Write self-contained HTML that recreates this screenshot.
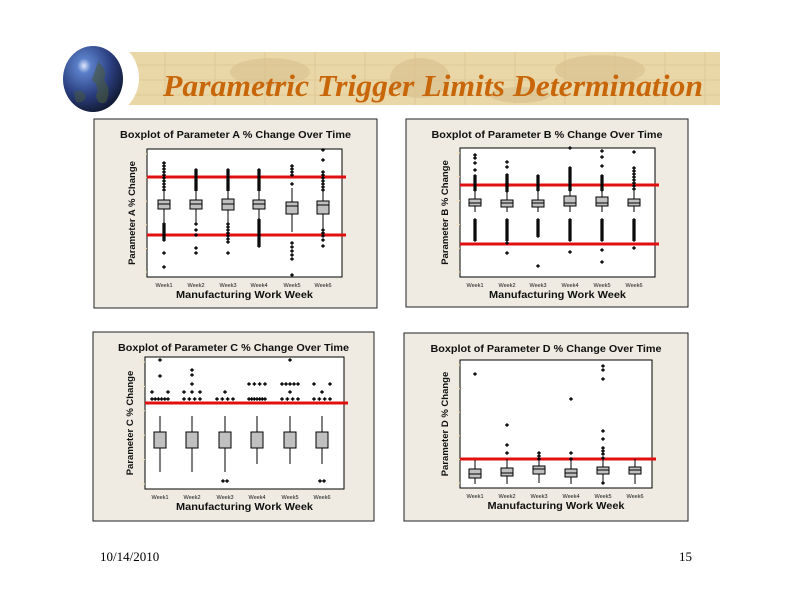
<!DOCTYPE html>
<html><head><meta charset="utf-8"><style>
html,body{margin:0;padding:0;background:#fff;}
svg{display:block;}
</style></head><body>
<svg id="s" width="792" height="612" viewBox="0 0 792 612" xmlns="http://www.w3.org/2000/svg">
<defs>
<radialGradient id="g" cx="0.35" cy="0.3" r="0.75">
<stop offset="0" stop-color="#dfe8ff"/><stop offset="0.15" stop-color="#5a7fc8"/><stop offset="0.6" stop-color="#2b3f80"/><stop offset="1" stop-color="#101830"/>
</radialGradient>
</defs>
<rect x="120" y="52" width="600" height="53" fill="#ead7a8"/>
<g fill="#dcc593" opacity="0.8">
<ellipse cx="270" cy="72" rx="40" ry="14"/><ellipse cx="420" cy="78" rx="30" ry="20"/><ellipse cx="600" cy="70" rx="45" ry="15"/><ellipse cx="520" cy="95" rx="30" ry="8"/>
</g>
<g stroke="#dcc48e" stroke-width="1" opacity="0.8">
<line x1="120" y1="65" x2="720" y2="65"/><line x1="120" y1="80" x2="720" y2="80"/><line x1="120" y1="95" x2="720" y2="95"/>
<line x1="165" y1="52" x2="165" y2="105"/><line x1="215" y1="52" x2="215" y2="105"/><line x1="265" y1="52" x2="265" y2="105"/><line x1="315" y1="52" x2="315" y2="105"/><line x1="365" y1="52" x2="365" y2="105"/><line x1="415" y1="52" x2="415" y2="105"/><line x1="465" y1="52" x2="465" y2="105"/><line x1="515" y1="52" x2="515" y2="105"/><line x1="565" y1="52" x2="565" y2="105"/><line x1="615" y1="52" x2="615" y2="105"/><line x1="665" y1="52" x2="665" y2="105"/><line x1="705" y1="52" x2="705" y2="105"/>
</g>
<ellipse cx="103" cy="78" rx="36" ry="38" fill="#fff"/>
<ellipse cx="93" cy="79" rx="30" ry="33" fill="url(#g)"/>
<path d="M98 62 q10 8 6 18 q8 10 2 22 q-8 4 -10 -6 q4 -10 -4 -16z" fill="#4a5a3a" opacity="0.6"/>
<path d="M74 92 q8 -4 12 4 q-2 8 -10 6z" fill="#4a5a3a" opacity="0.5"/>
<text x="163" y="96" font-family="Liberation Serif, serif" font-style="italic" font-weight="bold" font-size="31" fill="#c8660a" textLength="540" lengthAdjust="spacingAndGlyphs">Parametric Trigger Limits Determination</text>
<g id="panels"></g>
<text x="100" y="561" font-family="Liberation Serif, serif" font-size="13" fill="#000">10/14/2010</text>
<text x="679" y="561" font-family="Liberation Serif, serif" font-size="13" fill="#000">15</text>
</svg>
<script>
var NS="http://www.w3.org/2000/svg",G=document.getElementById("panels");
function el(t,a,txt){var e=document.createElementNS(NS,t);for(var k in a)e.setAttribute(k,a[k]);if(txt)e.textContent=txt;G.appendChild(e);return e;}
function rng(a,b,s){var r=[];for(var v=a;v<=b;v+=s)r.push(v);return r;}
function panel(P){
 el("rect",{x:P.px,y:P.py,width:P.pw,height:P.ph,fill:"#efebe2",stroke:"#222","stroke-width":1});
 el("text",{x:P.px+P.pw/2,y:P.py+19,"text-anchor":"middle","font-family":"Liberation Sans, sans-serif","font-weight":"bold","font-size":"10",fill:"#111",textLength:"231",lengthAdjust:"spacingAndGlyphs"},P.title);
 el("rect",{x:P.x,y:P.y,width:P.w,height:P.h,fill:"#fff",stroke:"#000","stroke-width":1});
 for(var i=0;i<6;i++){var ty=P.y+5+i*(P.h-10)/5;el("line",{x1:P.x-4,y1:ty,x2:P.x,y2:ty,stroke:"#f3e3c0","stroke-width":1});}
 P.reds.forEach(function(r){el("line",{x1:P.x,y1:r,x2:P.x+P.w+4,y2:r,stroke:"#e01010","stroke-width":3});});
 P.b.forEach(function(b,i){var cx=P.xs[i];
  el("line",{x1:cx,y1:b[3],x2:cx,y2:b[4],stroke:"#000","stroke-width":1});
  el("rect",{x:cx-6,y:b[0],width:12,height:b[1]-b[0],fill:"#c0c0c0",stroke:"#000","stroke-width":1});
  if(b[2])el("line",{x1:cx-6,y1:b[2],x2:cx+6,y2:b[2],stroke:"#000","stroke-width":1});
  (b[5]||[]).forEach(function(o){var ox=cx+(typeof o==="object"?o[1]:0),oy=typeof o==="object"?o[0]:o;
   el("path",{d:"M"+(ox-1.8)+" "+oy+"h3.6M"+ox+" "+(oy-1.8)+"v3.6",stroke:"#000","stroke-width":1.4});});
  el("text",{x:cx,y:P.y+P.h+10,"text-anchor":"middle","font-family":"Liberation Sans, sans-serif","font-size":"5.5",fill:"#111"},"Week"+(i+1));
 });
 el("text",{x:P.x+P.w/2,y:P.y+P.h+21,"text-anchor":"middle","font-family":"Liberation Sans, sans-serif","font-weight":"bold","font-size":"10",fill:"#111",textLength:"137",lengthAdjust:"spacingAndGlyphs"},"Manufacturing Work Week");
 var lx=P.x-12,ly=P.y+P.h/2;
 el("text",{x:lx,y:ly,"text-anchor":"middle","font-family":"Liberation Sans, sans-serif","font-weight":"bold","font-size":"9.5",fill:"#111",transform:"rotate(-90 "+lx+" "+ly+")"},P.yl);
}
var dA=rng(170,191,2),dB=rng(220,240,2);
panel({px:94,py:119,pw:283,ph:189,x:147,y:149,w:195,h:128,title:"Boxplot of Parameter A % Change Over Time",yl:"Parameter A % Change",
 reds:[177,235],xs:[164,196,228,259,292,323],
 b:[[200,209,204,192,223,rng(163,191,3).concat(rng(224,241,2),[253,267])],
    [200,209,204,192,223,dA.concat([224,230,235,248,253])],
    [199,210,204,192,223,dA.concat(rng(224,244,3),[253])],
    [200,209,204,192,223,dA.concat(rng(220,246,2))],
    [202,214,206,188,232,[166,169,172,175,184,243,247,251,255,259,275]],
    [201,214,205,187,232,[150,160].concat(rng(172,190,3),[230,233,236,240,246])]]});
panel({px:406,py:119,pw:282,ph:188,x:460,y:148,w:195,h:129,title:"Boxplot of Parameter B % Change Over Time",yl:"Parameter B % Change",
 reds:[185,244],xs:[475,507,538,570,602,634],
 b:[[199,206,203,190,212,[155,158,163,170].concat(rng(176,191,2),dB)],
    [200,207,203,191,212,[162,167].concat(rng(175,191,2),dB,[243,253])],
    [200,207,203,191,212,rng(176,191,2).concat(rng(220,236,2),[266])],
    [196,206,203,185,212,[148].concat(rng(168,190,2),dB,[252])],
    [197,206,203,186,212,[151,157,166].concat(rng(176,190,2),dB,[250,262])],
    [199,206,203,190,212,[152].concat(rng(168,190,3),dB,[248])]]});
function row(y,n){var r=[];for(var k=0;k<n;k++)r.push([y,-8+k*16/(n-1||1)]);return r;}
panel({px:93,py:332,pw:281,ph:189,x:145,y:357,w:199,h:132,title:"Boxplot of Parameter C % Change Over Time",yl:"Parameter C % Change",
 reds:[403],xs:[160,192,225,257,290,322],
 b:[[432,448,0,416,472,row(399,6).concat(row(392,2),[[376,0],[360,0]])],
    [432,448,0,416,472,row(399,4).concat(row(392,3),[[384,0],[375,0],[370,0]])],
    [432,448,0,416,472,row(399,4).concat([[392,0],[481,-2],[481,2]])],
    [432,448,0,416,464,row(399,7).concat(row(384,4))],
    [432,448,0,416,464,row(399,4).concat([[392,0],[360,0]],row(384,5))],
    [432,448,0,416,464,row(399,4).concat([[392,0]],row(384,2),[[481,-2],[481,2]])]]});
panel({px:404,py:333,pw:284,ph:188,x:460,y:360,w:192,h:128,title:"Boxplot of Parameter D % Change Over Time",yl:"Parameter D % Change",
 reds:[459],xs:[475,507,539,571,603,635],
 b:[[469,478,474,460,484,[374]],
    [468,476,473,459,484,[425,445,453]],
    [466,474,469,458,483,[453,456,459]],
    [469,477,473,460,484,[399,453,459]],
    [467,474,470,458,483,[366,370,379,431,439,448,451,454,458,483]],
    [467,474,470,459,484,[]]]});
</script>
</body></html>
